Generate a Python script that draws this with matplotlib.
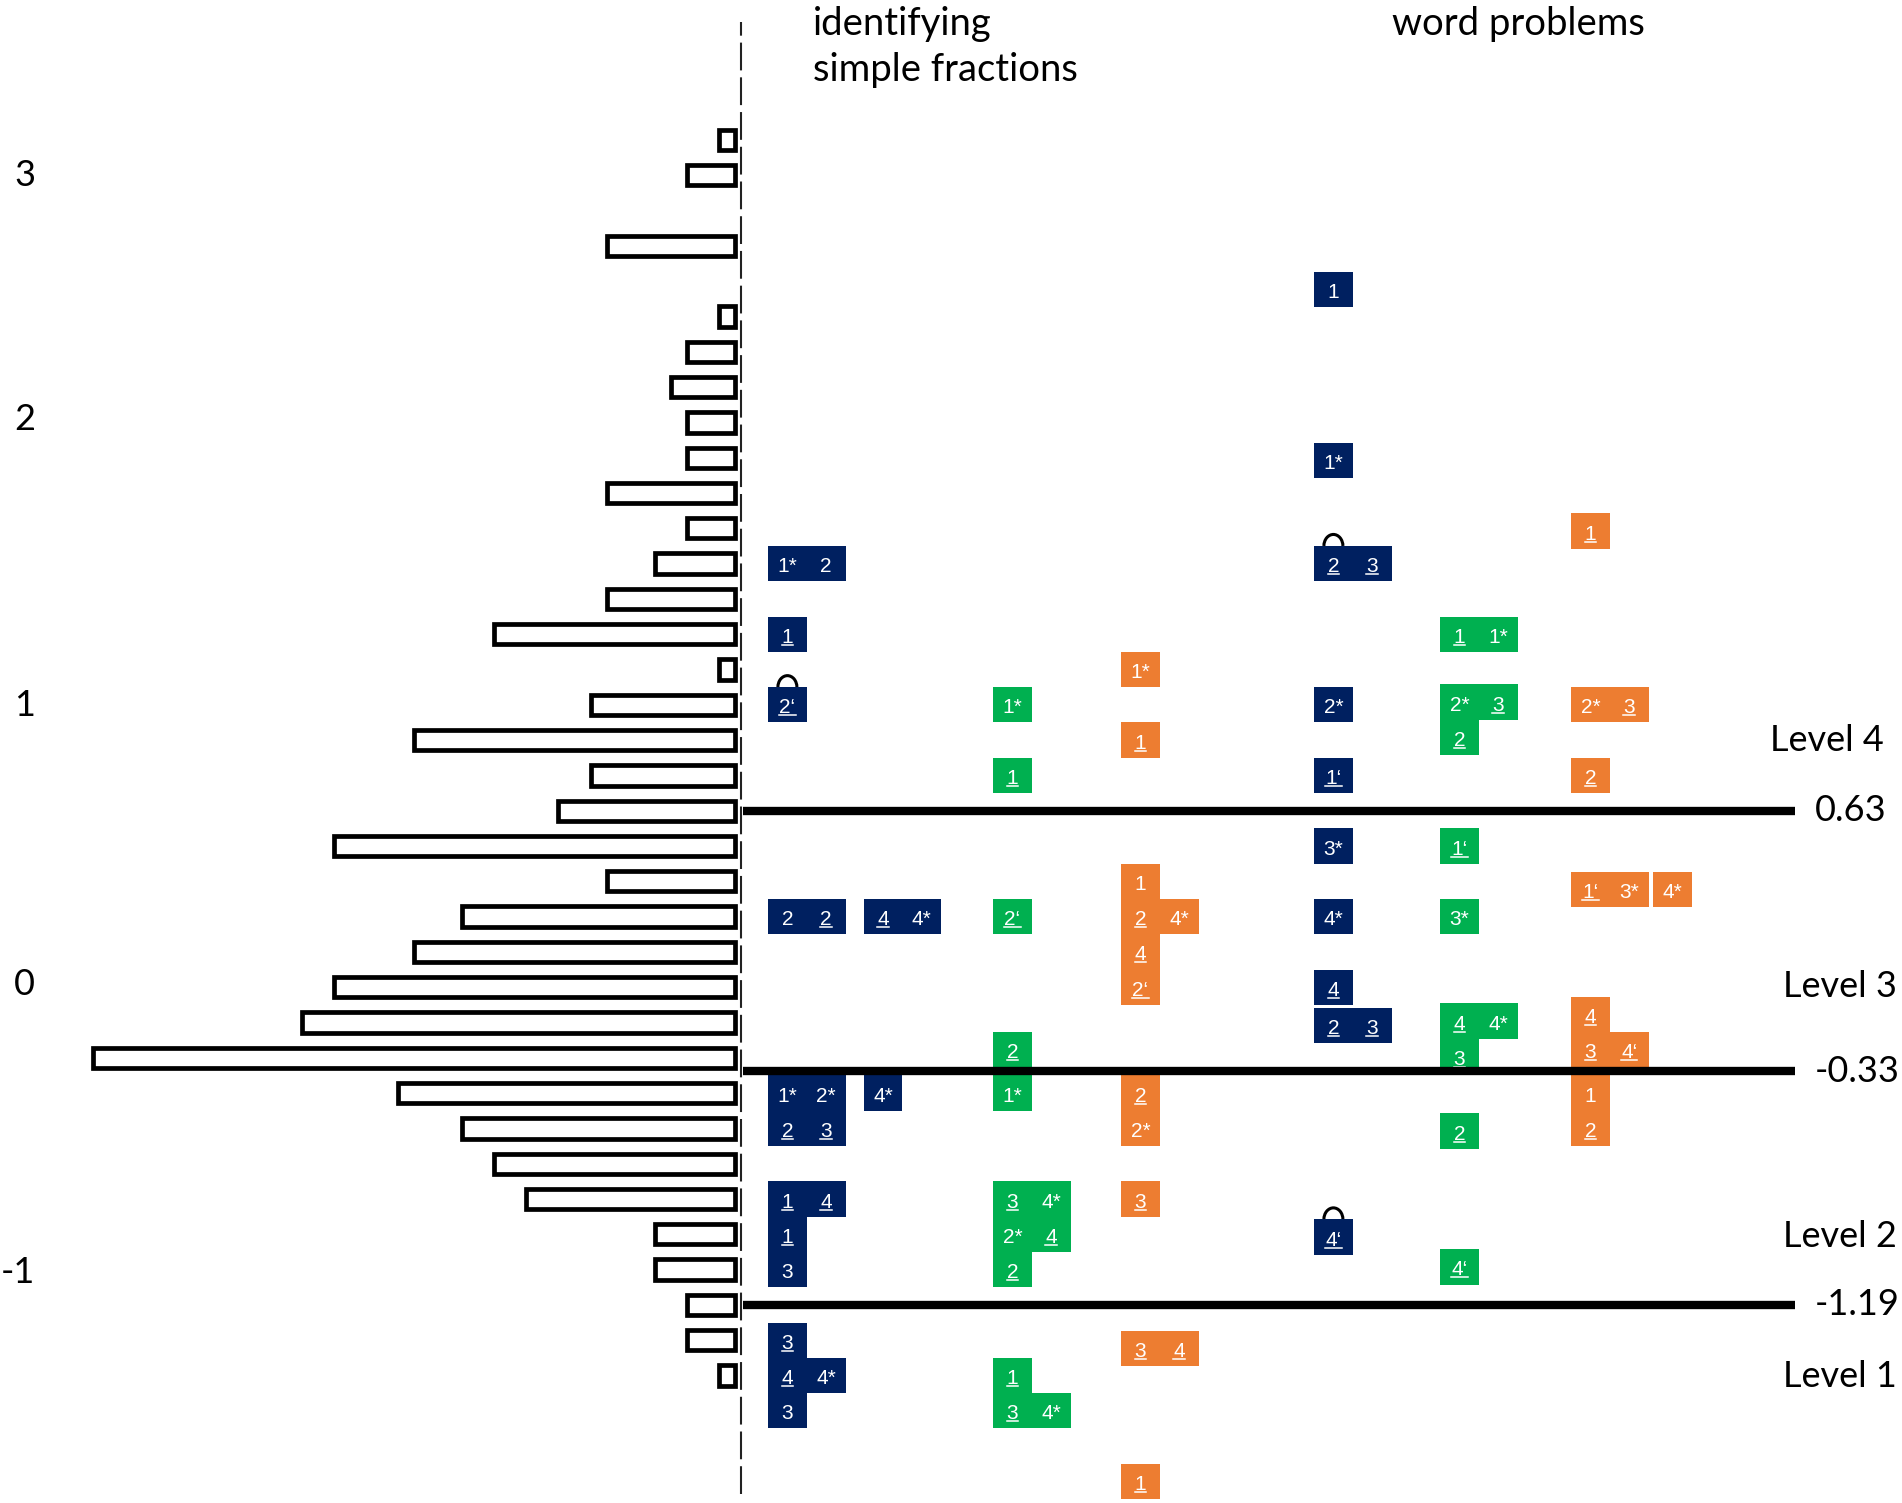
import numpy as np
import matplotlib.pyplot as plt
from matplotlib.patches import Rectangle, Arc

plt.rcParams['lines.scale_dashes'] = False

W, H, DPI = 1902, 1503, 100

# persons: ability bins (logits) and number of persons in each bin
person_bins = [3.10, 2.97, 2.84, 2.71, 2.58, 2.45, 2.32, 2.19, 2.06, 1.93,
               1.80, 1.67, 1.54, 1.41, 1.28, 1.15, 1.02, 0.89, 0.76, 0.63,
               0.50, 0.37, 0.24, 0.11, -0.02, -0.15, -0.28, -0.41, -0.54, -0.67,
               -0.80, -0.93, -1.06, -1.19, -1.32, -1.45]
person_counts = [1, 3, 0, 8, 0, 1, 3, 4, 3, 3,
                 8, 3, 5, 8, 15, 1, 9, 20, 9, 11,
                 25, 8, 17, 20, 25, 27, 40, 21, 17, 15,
                 13, 5, 5, 3, 3, 1]

tick_labels = ['3', '2', '1', '0', '-1']
tick_pos = [2.98, 2.08, 1.03, 0.0, -1.06]   # where the labels sit in the original

thresholds = [0.63, -0.33, -1.19]
threshold_labels = ['0.63', '-0.33', '-1.19']
level_names = ['Level 4', 'Level 3', 'Level 2', 'Level 1']

# items: (logit, column inside group, label)
# "_" = underlined label, "^" = item with the hook mark on top
idf_blue = [(1.54, 0, '1*'), (1.54, 1, '2'), (1.28, 0, '_1'), (1.02, 0, '^_2‘'),
            (0.24, 0, '2'), (0.24, 1, '_2'), (-0.41, 0, '1*'), (-0.41, 1, '2*'),
            (-0.54, 0, '_2'), (-0.54, 1, '_3'), (-0.80, 0, '_1'), (-0.80, 1, '_4'),
            (-0.93, 0, '_1'), (-1.06, 0, '3'), (-1.32, 0, '_3'), (-1.45, 0, '_4'),
            (-1.45, 1, '4*'), (-1.58, 0, '3')]
idf_blue2 = [(0.24, 0, '_4'), (0.24, 1, '4*'), (-0.41, 0, '4*')]
idf_green = [(1.02, 0, '1*'), (0.76, 0, '_1'), (0.24, 0, '_2‘'), (-0.25, 0, '_2'),
             (-0.41, 0, '1*'), (-0.80, 0, '_3'), (-0.80, 1, '4*'), (-0.93, 0, '2*'),
             (-0.93, 1, '_4'), (-1.06, 0, '_2'), (-1.45, 0, '_1'), (-1.58, 0, '_3'),
             (-1.58, 1, '4*')]
idf_orange = [(1.15, 0, '1*'), (0.89, 0, '_1'), (0.37, 0, '1'), (0.24, 0, '_2'),
              (0.24, 1, '4*'), (0.11, 0, '_4'), (-0.02, 0, '_2‘'), (-0.41, 0, '_2'),
              (-0.54, 0, '2*'), (-0.80, 0, '_3'), (-1.35, 0, '_3'), (-1.35, 1, '_4'),
              (-1.84, 0, '_1')]
wp_blue = [(2.55, 0, '1'), (1.92, 0, '1*'), (1.54, 0, '^_2'), (1.54, 1, '_3'),
           (1.02, 0, '2*'), (0.76, 0, '_1‘'), (0.50, 0, '3*'), (0.24, 0, '4*'),
           (-0.02, 0, '_4'), (-0.16, 0, '_2'), (-0.16, 1, '_3'), (-0.94, 0, '^_4‘')]
wp_green = [(1.28, 0, '_1'), (1.28, 1, '1*'), (1.03, 0, '2*'), (1.03, 1, '_3'),
            (0.90, 0, '_2'), (0.50, 0, '_1‘'), (0.24, 0, '3*'), (-0.145, 0, '_4'),
            (-0.145, 1, '4*'), (-0.275, 0, '_3'), (-0.55, 0, '_2'), (-1.05, 0, '_4‘')]
wp_orange = [(1.66, 0, '_1'), (1.02, 0, '2*'), (1.02, 1, '_3'), (0.76, 0, '_2'),
             (0.34, 0, '_1‘'), (0.34, 1, '3*'), (-0.12, 0, '_4'), (-0.25, 0, '_3'),
             (-0.25, 1, '_4‘'), (-0.41, 0, '1'), (-0.54, 0, '_2')]
wp_orange2 = [(0.34, 0, '4*')]

navy, green, orange = '#002060', '#00B050', '#ED7D31'

# layout (pixels)
REF_PX, PPL = 810.7, 271.54     # y pixel of 0.63 logits, pixels per logit
CELL = 38.8                     # item box width in px
AX_X = 741                      # dashed line
BAR_RIGHT = 735
PX_PER_PERSON = 16.05
ROW = 0.13

groups = [(idf_blue, navy, 768), (idf_blue2, navy, 863.6), (idf_green, green, 993),
          (idf_orange, orange, 1121), (wp_blue, navy, 1314), (wp_green, green, 1440),
          (wp_orange, orange, 1571), (wp_orange2, orange, 1653)]

ytop = 0.63 + REF_PX / PPL
ybot = 0.63 - (H - REF_PX) / PPL

fig = plt.figure(figsize=(W / DPI, H / DPI), dpi=DPI)


def fx(px):
    return px / W


def fy(py):
    return 1 - py / H


# ---- person histogram ----
axh = fig.add_axes([0, 0, BAR_RIGHT / W, 1])
pb = [b for b, c in zip(person_bins, person_counts) if c > 0]
pc = [c for c in person_counts if c > 0]
bars = axh.barh(pb, pc, height=0.075, left=0, color='white',
                edgecolor='black', linewidth=3.4)
for p in bars.patches:
    p.set_clip_on(False)
axh.set_xlim(BAR_RIGHT / PX_PER_PERSON, 0)
axh.set_ylim(ybot, ytop)
for s in axh.spines.values():
    s.set_visible(False)
axh.set_xticks([])
axh.set_yticks(tick_pos)
axh.set_yticklabels(tick_labels, fontsize=26, fontfamily='Lato')
axh.tick_params(axis='y', length=0, pad=-25.2)
axh.patch.set_alpha(0)

# ---- item map ----
axi = fig.add_axes([fx(AX_X), 0, 1 - fx(AX_X), 1])
axi.set_xlim(0, (W - AX_X) / CELL)
axi.set_ylim(ybot, ytop)
axi.axis('off')

axi.axvline(0, ymin=1 - 1494 / H, ymax=1 - 22 / H, color='#222222', lw=1.5,
            linestyle=(0, (20, 5)), clip_on=False)

for t in thresholds:
    axi.axhline(t, xmin=2 / (W - AX_X), xmax=(1795 - AX_X) / (W - AX_X),
                color='black', lw=6, zorder=5, solid_capstyle='butt')

em = 15 * DPI / 72
adv = {'*': 0.389, '‘': 0.222}
for items, col, left in groups:
    off = (left - AX_X) / CELL
    for y, c, lab in items:
        hook = lab.startswith('^')
        lab = lab.lstrip('^')
        under = lab.startswith('_')
        lab = lab.lstrip('_')
        x0 = off + c
        axi.add_patch(Rectangle((x0, y - ROW / 2), 1, ROW, facecolor=col,
                                edgecolor='none', zorder=2))
        axi.text(x0 + 0.5, y - 8.5 / PPL, lab, ha='center', va='baseline',
                 color='white', fontsize=15, fontfamily='Liberation Sans', zorder=4)
        if under:
            w = sum(adv.get(ch, 0.556) for ch in lab) * em / CELL
            axi.plot([x0 + 0.5 - w / 2, x0 + 0.5 + w / 2], [y - 10.5 / PPL] * 2,
                     color='white', lw=1.1, zorder=4)
        if hook:
            axi.add_patch(Arc((x0 + 0.5, y + ROW / 2), 19 / CELL, 23 / PPL,
                              theta1=0, theta2=180, color='black', lw=2.2, zorder=1))

# threshold values and level names
for t, s in zip(thresholds, threshold_labels):
    axi.text((1815 - AX_X) / CELL, t, s, ha='left', va='center', fontsize=26,
             fontfamily='Lato')

level_pos = [(1770, 751), (1783, 997), (1783, 1247), (1783, 1387)]
for name, (px, py) in zip(level_names, level_pos):
    fig.text(fx(px), fy(py), name, ha='left', va='baseline', fontsize=26,
             fontfamily='Lato')

fig.text(fx(813), fy(35), 'identifying', ha='left', va='baseline', fontsize=27.5,
         fontfamily='Lato')
fig.text(fx(813), fy(81), 'simple fractions', ha='left', va='baseline',
         fontsize=27.5, fontfamily='Lato')
fig.text(fx(1392), fy(35), 'word problems', ha='left', va='baseline',
         fontsize=27.5, fontfamily='Lato')

fig.savefig('out.png', dpi=DPI, facecolor='white')
